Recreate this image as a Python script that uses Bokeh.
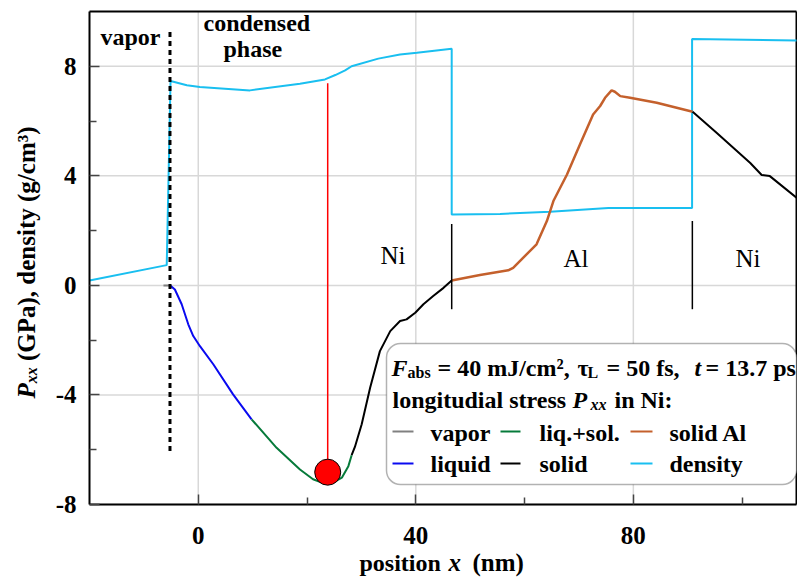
import math
from bokeh.plotting import figure
from bokeh.models import Label, BoxAnnotation, FixedTicker, Range1d
from bokeh.embed import file_html
from bokeh.resources import INLINE

# ---------------- data ----------------
dens_x = [-20, -5.8, -5.1, -2.1, 0.3, 9.5, 18.7, 23.3, 25.2, 27.0, 28.2, 33.1, 37.1, 40.2,
          46.6, 46.6, 55.5, 64.7, 75.4, 90.8, 90.8, 110]
dens_y = [0.18, 0.74, 7.46, 7.31, 7.24, 7.12, 7.36, 7.52, 7.68, 7.85, 8.0, 8.28, 8.43, 8.49,
          8.64, 2.59, 2.61, 2.69, 2.83, 2.83, 9.0, 8.94]

vapor_x = [-6.4, -5.2]
vapor_y = [0.0, 0.0]

liquid_x = [-5.2, -4.3, -3.05, -1.84, -0.92, 0.31, 2.76, 6.4, 9.8]
liquid_y = [0.0, -0.15, -0.69, -1.42, -1.85, -2.22, -2.88, -3.98, -4.89]

liqsol_x = [9.8, 14.4, 18.7, 21.1, 23.2, 24.8, 26.4, 27.6, 28.2]
liqsol_y = [-4.89, -5.93, -6.72, -7.08, -7.24, -7.2, -7.02, -6.6, -6.2]

solid1_x = [28.2, 28.8, 30.05, 31.6, 33.4, 35.3, 37.1, 38.3, 39.9, 41.4, 43.2, 45.1, 46.6]
solid1_y = [-6.2, -5.9, -5.07, -3.74, -2.4, -1.67, -1.30, -1.24, -1.0, -0.69, -0.39, -0.09, 0.18]

solidAl_x = [46.6, 51.8, 57.0, 57.9, 62.2, 64.1, 65.3, 67.8, 70.2, 72.6, 73.9, 74.8, 76.0, 76.6,
             77.6, 79.4, 84.3, 90.9]
solidAl_y = [0.18, 0.38, 0.55, 0.64, 1.5, 2.35, 3.08, 4.05, 5.15, 6.24, 6.55, 6.85, 7.12, 7.07,
             6.91, 6.85, 6.67, 6.34]

solid2_x = [90.9, 95.3, 101.5, 103.6, 105.1, 110]
solid2_y = [6.34, 5.57, 4.47, 4.03, 3.99, 3.2]

interface_x = [-5.2]          # vapor / condensed boundary
interface_y = [-6.05, 9.4]
layer_bounds_x = [46.6, 90.85]  # Ni|Al and Al|Ni boundaries
layer_bounds_y0 = [2.24, 2.35]
layer_bounds_y1 = [-0.87, -0.87]
marker_x = [23.8]
marker_y = [-6.82]
marker_top = [7.38]

x_ticks = [0, 40, 80]
x_minor = [20, 60, 100]
y_ticks = [-8, -4, 0, 4, 8]
y_minor = [-6, -2, 2, 6]
X0, X1, Y0, Y1 = -20, 110, -8, 10   # visible axis extents

C_DENS = "#19bff0"
C_LIQ = "#0a0af0"
C_LS = "#067a3a"
C_AL = "#c4602c"
C_VAP = "#808080"
C_GRID = "#d8d8d8"
FONT = "Liberation Serif"

# ---------------- figure ----------------
W, H = 797, 579
PL, PR, PT, PB = 89, 796, 11, 504   # pixel position of the axes box
BASE_FIX = 8                        # baseline correction of the text renderer


def px2x(px):
    return X0 + (px - PL) * (X1 - X0) / (PR - PL)


def px2y(py):
    return Y0 + (PB - py) * (Y1 - Y0) / (PB - PT)


p = figure(width=W, height=H,
           x_range=Range1d(px2x(0), px2x(W)), y_range=Range1d(px2y(H), px2y(0)),
           output_backend="svg", toolbar_location=None,
           min_border_left=0, min_border_right=0, min_border_top=0, min_border_bottom=0)
p.title.visible = False
p.background_fill_color = "white"
p.border_fill_color = "white"
p.outline_line_color = None
p.grid.visible = False

p.xaxis.ticker = FixedTicker(ticks=x_ticks, minor_ticks=x_minor)
p.yaxis.ticker = FixedTicker(ticks=y_ticks, minor_ticks=y_minor)
p.yaxis.major_label_overrides = {v: str(v) for v in y_ticks}
p.xaxis.major_label_overrides = {v: str(v) for v in x_ticks}
p.xaxis.fixed_location = Y0
p.yaxis.fixed_location = X0
p.xaxis.bounds = (X0, X1)
p.yaxis.bounds = (Y0, Y1)
for ax in (p.xaxis, p.yaxis):
    ax.axis_line_color = "black"
    ax.axis_line_width = 2
    ax.major_tick_in = 10
    ax.major_tick_out = 0
    ax.minor_tick_in = 7
    ax.minor_tick_out = 0
    ax.major_tick_line_color = "#444444"
    ax.minor_tick_line_color = "#444444"
    ax.major_tick_line_width = 1.5
    ax.minor_tick_line_width = 1.5
    ax.major_label_text_font = FONT
    ax.major_label_text_font_style = "bold"
    ax.major_label_text_font_size = "25px"
    ax.major_label_text_color = "black"
p.xaxis.major_label_standoff = 22
p.yaxis.major_label_standoff = 13

# grid lines from the tick arrays
p.segment(x0=x_ticks, y0=[Y0] * len(x_ticks), x1=x_ticks, y1=[Y1] * len(x_ticks),
          line_color=C_GRID, line_width=1.5, level="underlay")
p.segment(x0=[X0] * len(y_ticks), y0=y_ticks, x1=[X1] * len(y_ticks), y1=y_ticks,
          line_color=C_GRID, line_width=1.5, level="underlay")
# top and right edges of the axes box
p.segment(x0=[X0, X1], y0=[Y1, Y0], x1=[X1, X1], y1=[Y1, Y1], line_color="black", line_width=2)

# ---------------- curves ----------------
p.line(dens_x, dens_y, line_color=C_DENS, line_width=2)
p.line(vapor_x, vapor_y, line_color=C_VAP, line_width=2)
p.line(liquid_x, liquid_y, line_color=C_LIQ, line_width=2)
p.line(liqsol_x, liqsol_y, line_color=C_LS, line_width=2)
p.line(solid1_x, solid1_y, line_color="black", line_width=2)
p.line(solidAl_x, solidAl_y, line_color=C_AL, line_width=2.5)
p.line(solid2_x, solid2_y, line_color="black", line_width=2)

p.segment(x0=interface_x, y0=[interface_y[0]], x1=interface_x, y1=[interface_y[1]],
          line_color="black", line_width=3, line_dash="5 4")
p.segment(x0=layer_bounds_x, y0=layer_bounds_y0, x1=layer_bounds_x, y1=layer_bounds_y1,
          line_color="black", line_width=1.5)
p.segment(x0=marker_x, y0=marker_y, x1=marker_x, y1=marker_top, line_color="red", line_width=1.5)
p.scatter(marker_x, marker_y, size=26, fill_color="red", line_color="black", line_width=1)

# legend box
box = BoxAnnotation(left=px2x(386), right=px2x(796), top=px2y(343), bottom=px2y(484),
                    fill_color="white", fill_alpha=1.0, line_color="black", line_width=1.5,
                    border_radius=14)
p.add_layout(box)

# legend sample lines (drawn above the box)
samples = [(392, 413, 431, C_VAP), (500, 520, 431, C_LS), (630, 652, 431, C_AL),
           (392, 413, 463, C_LIQ), (500, 520, 463, "black"), (630, 652, 463, C_DENS)]
for xa, xb, yy, col in samples:
    p.segment(x0=[px2x(xa)], y0=[px2y(yy)], x1=[px2x(xb)], y1=[px2y(yy)],
              line_color=col, line_width=2, level="overlay")


# ---------------- texts ----------------
def lab(text, xpx, ypx, size=24, style="bold", angle=0.0, align="left"):
    if angle == 0.0:
        ypx = ypx - BASE_FIX
    else:
        xpx = xpx - BASE_FIX
    p.add_layout(Label(x=px2x(xpx), y=px2y(ypx), text=text, text_font=FONT,
                       text_font_size=f"{size}px", text_font_style=style, angle=angle,
                       text_align=align, text_baseline="alphabetic", text_color="black",
                       level="overlay"))


lab("vapor", 100, 44)
lab("condensed", 203, 30)
lab("phase", 223, 56)
lab("Ni", 380, 263, size=25, style="normal")
lab("Al", 563, 266, size=25, style="normal")
lab("Ni", 735, 266, size=25, style="normal")

# legend header line 1
lab("F", 391, 375, style="bold italic")
lab("abs", 407, 380, size=16)
lab("= 40 mJ/cm\u00b2,", 437, 375)
lab("\u03c4", 577, 375)
lab("L", 587, 380, size=16)
lab("= 50 fs,", 606, 375)
lab("t", 694, 375, style="bold italic")
lab("= 13.7 ps", 705, 375)
# line 2
lab("longitudial stress", 392, 407)
lab("P", 572, 407, style="bold italic")
lab("xx", 590, 412, size=16, style="bold italic")
lab("in Ni:", 614, 407)
# items
lab("vapor", 430, 440)
lab("liq.+sol.", 539, 440)
lab("solid Al", 669, 440)
lab("liquid", 430, 471)
lab("solid", 539, 471)
lab("density", 669, 471)

# axis titles
lab("position", 359, 570, size=24)
lab("x", 448, 570, size=25, style="bold italic")
lab("(nm)", 472, 570, size=25)

ang = math.pi / 2
lab("P", 34, 398, size=25, style="bold italic", angle=ang)
lab("xx", 39, 382.7, size=16, style="bold italic", angle=ang)
lab("(GPa), density (g/cm\u00b3)", 34, 360.5, size=25, angle=ang)

open("out.html", "w").write(file_html(p, INLINE))
